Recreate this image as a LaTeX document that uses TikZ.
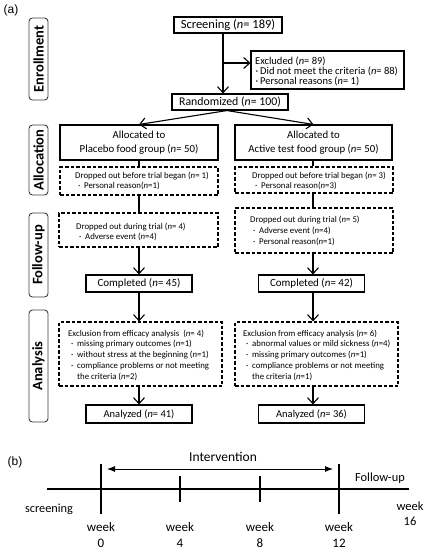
\documentclass[tikz,border=0pt]{standalone}
\usepackage{fontspec}
\setmainfont{Carlito}
\newfontfamily\arialf{Liberation Sans}
\usetikzlibrary{arrows.meta,calc}
\newcommand\bl{\makebox[9pt][l]{\hspace{3pt}\textperiodcentered}}
\newcommand\eb{\makebox[5pt][l]{\hspace{0.5pt}\textperiodcentered}}
\begin{document}
\begin{tikzpicture}[x=1pt,y=-1pt,
  box/.style={draw, line width=1.1pt, inner sep=0pt, align=center},
  dbox/.style={draw, line width=1.2pt, dash pattern=on 3.5pt off 2pt, inner sep=0pt},
  txt/.style={anchor=west, inner sep=0pt, align=left, font=\fontsize{8.8}{10.7}\selectfont},
  lab/.style={draw=black!75, line width=0.9pt, rounded corners=3.5pt, rotate=90, minimum height=19pt, inner sep=0pt, font=\fontsize{14.5}{16}\selectfont\bfseries},
  arr/.style={-{Straight Barb[length=6pt,width=11pt,line width=1.1pt]}, line width=1.1pt},
  ln/.style={line width=1.1pt},
  wk/.style={align=center, inner sep=0pt, font=\fontsize{13}{16}\selectfont},
]
\useasboundingbox[fill=white] (0,0) rectangle (427,550);

% labels
\node[font=\arialf\fontsize{12}{14}\selectfont, inner sep=0pt] (pa) at (11,10) {(a)};
\node[font=\arialf\fontsize{12}{14}\selectfont, inner sep=0pt] (pb) at (15,462) {(b)};

\node[lab, minimum width=82pt] (l1) at (38.5,59) {Enrollment};
\node[lab, minimum width=70pt] (l2) at (38.5,160) {Allocation};
\node[lab, minimum width=84pt] (l3) at (38.5,255) {Follow-up};
\node[lab, minimum width=112pt] (l4) at (38.5,366) {Analysis};

% enrollment
\node[box, minimum width=108pt, minimum height=16pt, font=\fontsize{12.5}{14}\selectfont] (scr) at (228,25) {Screening (\textit{n}= 189)};
\node[box, minimum width=153pt, minimum height=38pt] (exc) at (327.5,70) {};
\node[txt, font=\fontsize{10.5}{10}\selectfont] (exct) at (255,71) {Excluded (\textit{n}= 89)\\\eb Did not meet the criteria (\textit{n}= 88)\\\eb Personal reasons (\textit{n}= 1)};
\node[box, minimum width=116pt, minimum height=16pt, font=\fontsize{11.8}{14}\selectfont] (rnd) at (230,102) {Randomized (\textit{n}= 100)};

% allocation
\node[box, minimum width=158pt, minimum height=35pt, font=\fontsize{10.8}{14.5}\selectfont] (alL) at (139,142.5) {Allocated to\\Placebo food group (\textit{n}= 50)};
\node[box, minimum width=157pt, minimum height=35pt, font=\fontsize{10.8}{14.5}\selectfont] (alR) at (313.5,142.5) {Allocated to\\Active test food group (\textit{n}= 50)};

\node[dbox, minimum width=158pt, minimum height=28pt] (d1L) at (139,181) {};
\node[txt] (d1Lt) at (75,181) {Dropped out before trial began (\textit{n}= 1)\\\bl Personal reason(\textit{n}=1)};
\node[dbox, minimum width=158pt, minimum height=26pt] (d1R) at (314,180) {};
\node[txt] (d1Rt) at (252,181) {Dropped out before trial began (\textit{n}= 3)\\\bl Personal reason(\textit{n}=3)};

% follow-up
\node[dbox, minimum width=159pt, minimum height=34pt] (d2L) at (138.5,230) {};
\node[txt] (d2Lt) at (76,232) {Dropped out during trial (\textit{n}= 4)\\\bl Adverse event (\textit{n}=4)};
\node[dbox, minimum width=158pt, minimum height=45pt] (d2R) at (314,230.5) {};
\node[txt] (d2Rt) at (250,231) {Dropped out during trial (\textit{n}= 5)\\\bl Adverse event (\textit{n}=4)\\\bl Personal reason(\textit{n}=1)};

\node[box, minimum width=106pt, minimum height=17pt, font=\fontsize{11}{13}\selectfont] (cL) at (139,283.5) {Completed (\textit{n}= 45)};
\node[box, minimum width=106pt, minimum height=17pt, font=\fontsize{11}{13}\selectfont] (cR) at (311.5,283.5) {Completed (\textit{n}= 42)};

% analysis
\node[dbox, minimum width=163pt, minimum height=64pt] (eL) at (140.5,354) {};
\node[txt] (eLt) at (68,355) {Exclusion from efficacy analysis\ \ (\textit{n}= 4)\\\bl missing primary outcomes (\textit{n}=1)\\\bl without stress at the beginning (\textit{n}=1)\\\bl compliance problems or not meeting\\\hspace*{9pt}the criteria (\textit{n}=2)};
\node[dbox, minimum width=163pt, minimum height=64pt] (eR) at (316.5,354) {};
\node[txt] (eRt) at (243,355) {Exclusion from efficacy analysis (\textit{n}= 6)\\\bl abnormal values or mild sickness (\textit{n}=4)\\\bl missing primary outcomes (\textit{n}=1)\\\bl compliance problems or not meeting\\\hspace*{9pt}the criteria (\textit{n}=1)};

\node[box, minimum width=106pt, minimum height=18pt, font=\fontsize{10.5}{13}\selectfont] (anL) at (139,414) {Analyzed (\textit{n}= 41)};
\node[box, minimum width=106pt, minimum height=18pt, font=\fontsize{10.5}{13}\selectfont] (anR) at (311.5,414) {Analyzed (\textit{n}= 36)};

% connectors
\coordinate (v) at (223,0);
\coordinate (br) at (223,63);
\coordinate (vr) at (227,0);
\coordinate (cl) at (139,0);
\coordinate (cr) at (313,0);
\draw[arr] (scr.south -| v) -- (rnd.north -| v);
\draw[arr] (br) -- (br -| exc.west);
\draw[arr] (rnd.south -| vr) -- (alL.north);
\draw[arr] (rnd.south -| vr) -- (alR.north);
\draw[ln] (alL.south -| cl) -- (d1L.north -| cl);
\draw[ln] (d1L.south -| cl) -- (d2L.north -| cl);
\draw[arr] (d2L.south -| cl) -- (cL.north -| cl);
\draw[arr] (cL.south -| cl) -- (eL.north -| cl);
\draw[arr] (eL.south -| cl) -- (anL.north -| cl);
\draw[ln] (alR.south -| cr) -- (d1R.north -| cr);
\draw[ln] (d1R.south -| cr) -- (d2R.north -| cr);
\draw[arr] (d2R.south -| cr) -- (cR.north -| cr);
\draw[arr] (cR.south -| cr) -- (eR.north -| cr);
\draw[arr] (eR.south -| cr) -- (anR.north -| cr);

% timeline (b)
\draw[line width=1.8pt] (47,489) -- (409,489);
\foreach \x in {101,339} \draw[line width=2.2pt] (\x,464) -- (\x,514);
\foreach \x in {180,260} \draw[line width=2.2pt] (\x,476) -- (\x,502);
\draw[{Latex[length=8pt,width=6pt]}-{Latex[length=8pt,width=6pt]}, line width=0.9pt] (107,469) -- (333,469);
\node[inner sep=0pt, font=\fontsize{13.5}{15}\selectfont] (int) at (223,457) {Intervention};
\node[inner sep=0pt, font=\fontsize{12.4}{15}\selectfont] (fu) at (380,478) {Follow-up};
\node[inner sep=0pt, font=\fontsize{12.3}{15}\selectfont] (sc) at (49,509) {screening};
\node[wk, font=\fontsize{12.5}{15}\selectfont] (w16) at (410,514) {week\\16};
\node[wk] (w0) at (101,535) {week\\0};
\node[wk] (w4) at (180,535) {week\\4};
\node[wk] (w8) at (260,535) {week\\8};
\node[wk] (w12) at (339,535) {week\\12};
\end{tikzpicture}
\end{document}
